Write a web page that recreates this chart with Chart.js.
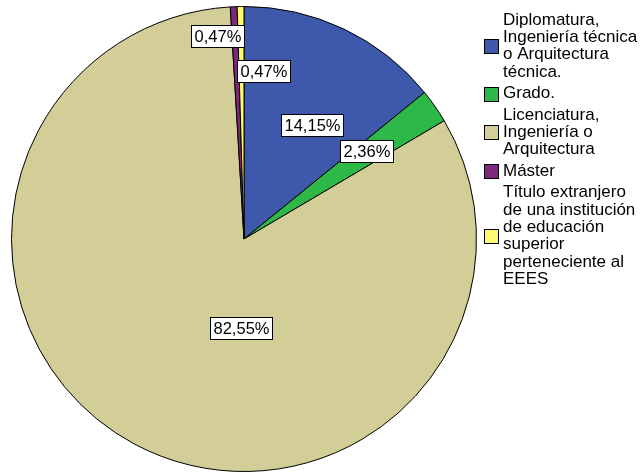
<!DOCTYPE html>
<html>
<head>
<meta charset="utf-8">
<script src="https://cdn.jsdelivr.net/npm/chart.js@4.4.0/dist/chart.umd.min.js"></script>
<style>
    html, body { margin: 0; padding: 0; background: #fff; }
    #wrap { position: relative; width: 643px; height: 474px; }
</style>
</head>
<body>
<div id="wrap"><canvas id="sourcePie" width="643" height="474"></canvas></div>
<script>
// legend text, one entry per slice, already split the way the picture wraps it
var categories = [
    ['Diplomatura,', 'Ingeniería técnica', 'o Arquitectura', 'técnica.'],
    ['Grado.'],
    ['Licenciatura,', 'Ingeniería o', 'Arquitectura'],
    ['Máster'],
    ['Título extranjero', 'de una institución', 'de educación', 'superior', 'perteneciente al', 'EEES']
];
var percentages = [14.15, 2.36, 82.55, 0.47, 0.47];
var sliceColors = ['#3E58AC', '#2EB848', '#D3CE97', '#7C287D', '#FBF873'];

// where each value box sits: angle clockwise from 12 o'clock (deg), fraction of radius
var labelSpots = [[31, 0.57], [54.4, 0.65], [182, 0.385], [352.7, 0.882], [6.8, 0.726]];

var FONT = '"Liberation Sans", Arial, sans-serif';

var valueBoxes = {
    id: 'valueBoxes',
    afterDatasetsDraw: function (chart) {
        var ctx = chart.ctx;
        var arcs = chart.getDatasetMeta(0).data;
        ctx.save();
        ctx.font = '16.5px ' + FONT;
        ctx.textAlign = 'center';
        ctx.textBaseline = 'middle';
        arcs.forEach(function (arc, i) {
            var a = labelSpots[i][0] * Math.PI / 180;
            var r = arc.outerRadius * labelSpots[i][1];
            var x = arc.x + Math.sin(a) * r;
            var y = arc.y - Math.cos(a) * r;
            var txt = percentages[i].toFixed(2).replace('.', ',') + '%';
            var w = Math.round(ctx.measureText(txt).width + 6);
            var h = 22;
            var bx = Math.round(x - w / 2) + 0.5;
            var by = Math.round(y - h / 2) + 0.5;
            ctx.fillStyle = '#fff';
            ctx.fillRect(bx, by, w, h);
            ctx.strokeStyle = '#000';
            ctx.lineWidth = 1;
            ctx.strokeRect(bx, by, w, h);
            ctx.fillStyle = '#000';
            ctx.fillText(txt, bx + w / 2, by + h / 2 + 1);
        });
        ctx.restore();
    }
};

var sideLegend = {
    id: 'sideLegend',
    afterDraw: function (chart) {
        var ctx = chart.ctx;
        var lineH = 17.4, gap = 4, y = 11.3;
        ctx.save();
        ctx.font = '17px ' + FONT;
        ctx.textAlign = 'left';
        ctx.textBaseline = 'middle';
        categories.forEach(function (lines, i) {
            var blockH = lines.length * lineH;
            var boxY = Math.round(y + blockH / 2 - 7) + 0.5;
            ctx.fillStyle = sliceColors[i];
            ctx.fillRect(484.5, boxY, 14, 14);
            ctx.strokeStyle = '#000';
            ctx.lineWidth = 1;
            ctx.strokeRect(484.5, boxY, 14, 14);
            ctx.fillStyle = '#000';
            lines.forEach(function (t, k) {
                ctx.fillText(t, 503, y + lineH * (k + 0.5));
            });
            y += blockH + gap;
        });
        ctx.restore();
    }
};

new Chart(document.getElementById('sourcePie').getContext('2d'), {
    type: 'pie',
    data: {
        labels: categories,
        datasets: [{
            data: percentages,
            backgroundColor: sliceColors,
            borderColor: '#000',
            borderWidth: 1
        }]
    },
    options: {
        responsive: false,
        animation: false,
        layout: { padding: { left: 11, right: 166, top: 6, bottom: 2 } },
        plugins: {
            legend: { display: false },
            tooltip: { enabled: false }
        }
    },
    plugins: [valueBoxes, sideLegend]
});
</script>
</body>
</html>
